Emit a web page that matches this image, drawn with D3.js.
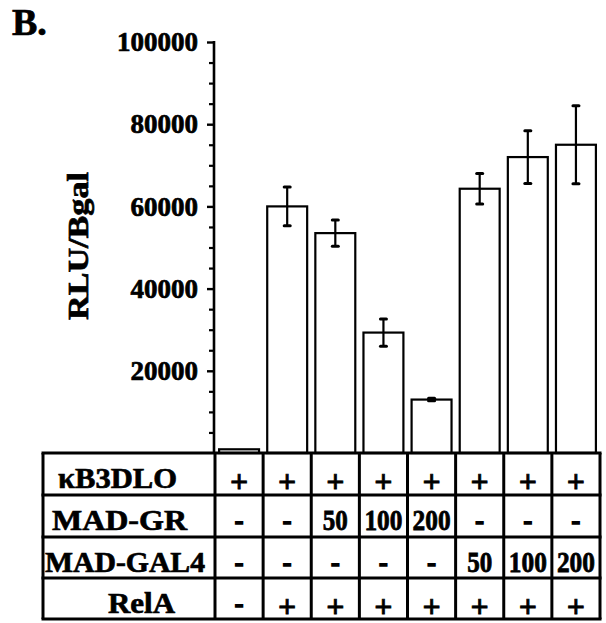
<!DOCTYPE html>
<html>
<head>
<meta charset="utf-8">
<script src="https://cdn.jsdelivr.net/npm/d3@7"></script>
<style>
  html, body { margin: 0; padding: 0; background: #fff; }
  svg text { font-family: "Liberation Serif", "Times New Roman", serif; font-weight: bold; fill: #000; }
</style>
</head>
<body>
<svg id="chart" width="606" height="623"></svg>
<script>
// Lanes of the reporter assay (one bar per lane)
const lanes = ["1", "2", "3", "4", "5", "6", "7", "8"];
// Mean luciferase activity normalised to beta-gal, and its error
const rluValues = [900, 60000, 53500, 29300, 13000, 64300, 72000, 75000];
const rluErrors = [0, 4700, 3200, 3300, 300, 3700, 6400, 9500];

// Transfection table underneath the bars
const rowLabels = ["κB3DLO", "MAD-GR", "MAD-GAL4", "RelA"];
const kB3DLO  = ["+", "+", "+", "+", "+", "+", "+", "+"];
const madGR   = ["-", "-", "50", "100", "200", "-", "-", "-"];
const madGAL4 = ["-", "-", "-", "-", "-", "50", "100", "200"];
const relA    = ["-", "+", "+", "+", "+", "+", "+", "+"];
const tableRows = [kB3DLO, madGR, madGAL4, relA];

// Axis ticks
const majorTicks = [20000, 40000, 60000, 80000, 100000];
const minorTicks = d3.range(5000, 100001, 5000).filter(v => v % 20000 !== 0);

const svg = d3.select("#chart");

const axisX = 214, plotRight = 600, baseY = 453, topY = 42;
const tableLeft = 43, tableRight = 600;
const rowTops = [453, 495, 537, 578, 619];

const y = d3.scaleLinear().domain([0, 100000]).range([baseY, topY]);
const xCol = d3.scaleBand().domain(lanes).range([axisX + 1, plotRight]);
const xBar = d3.scaleBand().domain(lanes).range([axisX + 1, plotRight])
  .paddingInner(0.17).paddingOuter(0.085);

// Heavy printed-type look for all labels
const heavy = sel => sel.attr("stroke", "#000").attr("stroke-width", 0.7).attr("paint-order", "stroke");

// Panel letter
svg.append("text").attr("x", 12).attr("y", 35)
  .style("font-size", "38px").text("B.").call(heavy);

// Y axis title
svg.append("text")
  .attr("transform", `translate(88,246) rotate(-90)`)
  .attr("text-anchor", "middle")
  .attr("textLength", 148).attr("lengthAdjust", "spacingAndGlyphs")
  .style("font-size", "30px").text("RLU/Bgal").call(heavy);

// Minor ticks
const minorAxis = svg.append("g").attr("transform", `translate(${axisX},0)`)
  .call(d3.axisLeft(y).tickValues(minorTicks).tickSize(5).tickFormat(""));
minorAxis.select(".domain").remove();
minorAxis.selectAll(".tick line").attr("stroke", "#000").attr("stroke-width", 2.2);

// Major ticks with labels
const majorAxis = svg.append("g").attr("transform", `translate(${axisX},0)`)
  .call(d3.axisLeft(y).tickValues(majorTicks).tickSize(7).tickPadding(9).tickFormat(d3.format("d")));
majorAxis.select(".domain").remove();
majorAxis.selectAll(".tick line").attr("stroke", "#000").attr("stroke-width", 2.4);
majorAxis.selectAll(".tick text")
  .style("font-size", "27px")
  .style("font-family", "'Liberation Serif', serif")
  .style("font-weight", "bold")
  .attr("fill", "#000")
  .call(heavy);

// Axis spine
svg.append("line")
  .attr("x1", axisX).attr("x2", axisX)
  .attr("y1", y(100000) - 1).attr("y2", baseY)
  .attr("stroke", "#000").attr("stroke-width", 2.6);

// Bars
svg.append("g").selectAll("rect").data(lanes).join("rect")
  .attr("x", d => xBar(d))
  .attr("width", xBar.bandwidth())
  .attr("y", (d, i) => y(rluValues[i]))
  .attr("height", (d, i) => baseY - y(rluValues[i]))
  .attr("fill", "#fff").attr("stroke", "#000").attr("stroke-width", 2.2);

// Error bars
const errG = svg.append("g").attr("stroke", "#000");
lanes.forEach((d, i) => {
  if (!rluErrors[i]) return;
  const cx = xBar(d) + xBar.bandwidth() / 2;
  const hi = y(rluValues[i] + rluErrors[i]);
  const lo = y(rluValues[i] - rluErrors[i]);
  errG.append("line").attr("x1", cx).attr("x2", cx).attr("y1", hi).attr("y2", lo)
    .attr("stroke-width", 2.2);
  [hi, lo].forEach(yy => {
    errG.append("line").attr("x1", cx - 3).attr("x2", cx + 3).attr("y1", yy).attr("y2", yy)
      .attr("stroke-width", 3).attr("stroke-linecap", "round");
  });
});

// Table grid
const grid = svg.append("g").attr("stroke", "#000").attr("stroke-width", 3);
rowTops.forEach(ry => {
  grid.append("line").attr("x1", tableLeft - 1.5).attr("x2", tableRight + 1.5)
    .attr("y1", ry).attr("y2", ry);
});
const colEdges = [tableLeft].concat(lanes.map(d => xCol(d))).concat([tableRight]);
colEdges.forEach(cx => {
  grid.append("line").attr("x1", cx).attr("x2", cx)
    .attr("y1", rowTops[0]).attr("y2", rowTops[rowTops.length - 1]);
});

// Row labels
const labelLayout = [
  { x: 58, w: 119 },
  { x: 52, w: 135 },
  { x: 45, w: 160 },
  { x: 108, w: 67 }
];
rowLabels.forEach((lab, r) => {
  svg.append("text")
    .attr("x", labelLayout[r].x).attr("y", rowTops[r] + 35)
    .attr("textLength", labelLayout[r].w).attr("lengthAdjust", "spacingAndGlyphs")
    .style("font-size", "30px").text(lab).call(heavy);
});

// Cell entries: signs are centred, doses are set tight to fill the cell
const isSign = d => d === "+" || d === "-";
tableRows.forEach((row, r) => {
  const cells = svg.append("g").selectAll("text").data(row).join("text")
    .attr("x", (d, i) => xCol(lanes[i]) + xCol.bandwidth() / 2)
    .attr("y", d => rowTops[r] + (d === "+" ? 39 : d === "-" ? 34 : 35))
    .attr("text-anchor", "middle")
    .style("font-size", d => d === "+" ? "32px" : isSign(d) ? "26px" : "29px")
    .attr("stroke", "#000")
    .attr("stroke-width", d => d === "-" ? 1.6 : 0.8)
    .attr("paint-order", "stroke")
    .text(d => d);
  cells.filter(d => !isSign(d))
    .attr("textLength", d => d.length === 2 ? 25 : 38)
    .attr("lengthAdjust", "spacingAndGlyphs");
});
</script>
</body>
</html>
